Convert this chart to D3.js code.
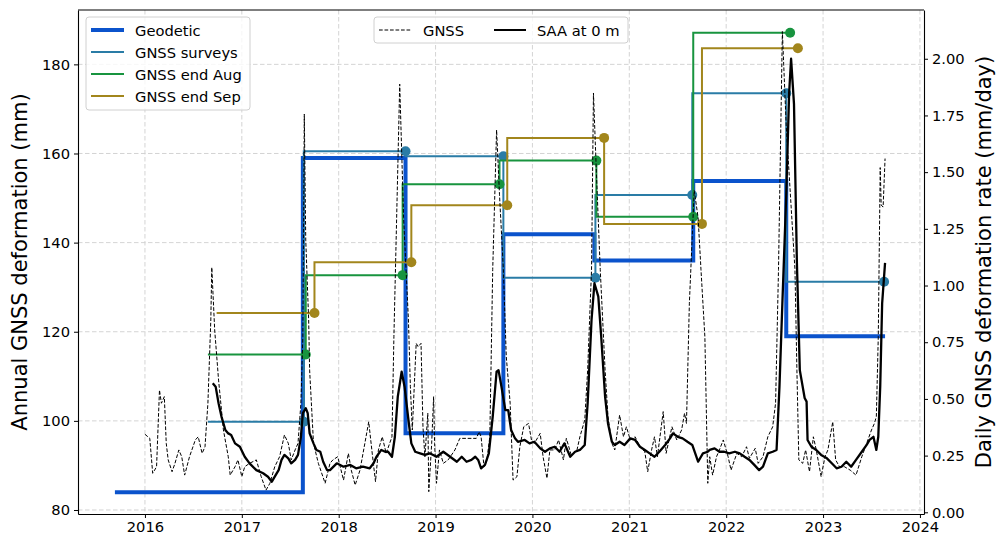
<!DOCTYPE html>
<html><head><meta charset="utf-8">
<script src="https://cdn.jsdelivr.net/npm/d3@7"></script>
<style>
html,body{margin:0;padding:0;background:#fff;}
svg text{font-family:"DejaVu Sans",sans-serif;}
</style></head>
<body>
<svg id="chart" width="998" height="544"></svg>
<script>
// ---------------- DATA ----------------
const xTickYears = [2016,2017,2018,2019,2020,2021,2022,2023,2024];
const leftTicks = [80,100,120,140,160,180];
const rightTicks = [0,0.25,0.5,0.75,1.0,1.25,1.5,1.75,2.0];

// Geodetic annual deformation (step, value holds until next boundary)
const geodeticYears = [2015.69,2017.63,2018.69,2019.70,2020.64,2021.66,2022.62,2023.64];
const geodeticValues = [84.0,159.0,97.2,141.9,136.0,153.8,119.0];

// GNSS surveys (first entry is start of first period, no marker)
const surveyYears = [2016.65,2017.64,2018.69,2019.70,2020.65,2021.65,2022.62,2023.63];
const surveyValues = [99.8,99.8,160.5,159.4,132.1,150.7,173.5,131.2];

// GNSS end Aug
const augYears = [2016.65,2017.66,2018.66,2019.66,2020.66,2021.66,2022.66];
const augValues = [114.9,114.9,132.7,153.1,158.4,145.8,187.1];

// GNSS end Sep
const sepYears = [2016.74,2017.75,2018.75,2019.74,2020.74,2021.75,2022.74];
const sepValues = [124.2,124.2,135.6,148.4,163.5,144.2,183.6];

// Daily GNSS deformation rate (mm/day)
const gnssYears = [2016.00,2016.05,2016.08,2016.10,2016.12,2016.15,2016.17,2016.20,2016.22,2016.24,2016.28,2016.31,2016.35,2016.38,2016.41,2016.46,2016.52,2016.55,2016.59,2016.62,2016.65,2016.68,2016.69,2016.72,2016.76,2016.81,2016.86,2016.88,2016.93,2016.96,2017.00,2017.03,2017.08,2017.15,2017.20,2017.25,2017.29,2017.34,2017.39,2017.44,2017.48,2017.51,2017.55,2017.58,2017.61,2017.63,2017.645,2017.66,2017.69,2017.70,2017.74,2017.79,2017.86,2017.91,2017.94,2017.99,2018.05,2018.10,2018.13,2018.17,2018.22,2018.27,2018.31,2018.35,2018.38,2018.41,2018.45,2018.49,2018.55,2018.57,2018.63,2018.67,2018.72,2018.74,2018.76,2018.80,2018.82,2018.85,2018.87,2018.89,2018.92,2018.93,2018.96,2018.98,2018.99,2019.01,2019.04,2019.08,2019.13,2019.20,2019.25,2019.42,2019.45,2019.47,2019.50,2019.53,2019.56,2019.59,2019.63,2019.66,2019.70,2019.73,2019.77,2019.80,2019.84,2019.87,2019.91,2019.96,2019.99,2020.02,2020.08,2020.11,2020.15,2020.18,2020.23,2020.27,2020.32,2020.35,2020.40,2020.46,2020.49,2020.54,2020.57,2020.61,2020.63,2020.66,2020.70,2020.75,2020.78,2020.82,2020.85,2020.90,2020.94,2020.97,2021.01,2021.06,2021.11,2021.16,2021.19,2021.23,2021.26,2021.29,2021.35,2021.38,2021.44,2021.49,2021.54,2021.57,2021.59,2021.62,2021.67,2021.71,2021.74,2021.78,2021.81,2021.83,2021.86,2021.90,2021.93,2021.97,2022.02,2022.05,2022.11,2022.16,2022.21,2022.24,2022.30,2022.33,2022.38,2022.43,2022.48,2022.51,2022.54,2022.58,2022.62,2022.71,2022.73,2022.75,2022.79,2022.82,2022.86,2022.90,2022.93,2022.98,2023.02,2023.05,2023.10,2023.13,2023.17,2023.22,2023.28,2023.34,2023.40,2023.45,2023.50,2023.53,2023.55,2023.57,2023.59,2023.60,2023.62,2023.64];
const gnssRates = [0.344,0.326,0.172,0.186,0.201,0.539,0.481,0.510,0.304,0.231,0.179,0.216,0.275,0.245,0.164,0.245,0.319,0.333,0.260,0.289,0.481,0.848,1.08,0.804,0.583,0.363,0.245,0.164,0.201,0.231,0.157,0.201,0.216,0.231,0.157,0.098,0.128,0.201,0.245,0.341,0.304,0.231,0.275,0.304,0.481,0.774,1.756,1.20,0.848,0.627,0.304,0.216,0.128,0.216,0.231,0.245,0.142,0.260,0.186,0.120,0.186,0.304,0.399,0.245,0.135,0.275,0.333,0.260,0.333,0.774,1.888,1.30,0.848,0.554,0.363,0.745,0.730,0.745,0.377,0.245,0.437,0.091,0.304,0.510,0.304,0.128,0.275,0.216,0.231,0.275,0.326,0.326,0.355,0.333,0.201,0.231,0.333,1.07,1.686,1.40,1.07,0.686,0.481,0.142,0.157,0.289,0.377,0.392,0.319,0.304,0.348,0.245,0.150,0.275,0.275,0.319,0.231,0.326,0.253,0.275,0.333,0.407,0.627,1.069,1.849,1.50,1.07,0.627,0.422,0.304,0.275,0.429,0.333,0.377,0.319,0.333,0.289,0.267,0.179,0.275,0.333,0.245,0.444,0.260,0.377,0.319,0.363,0.437,0.392,0.922,1.42,1.30,1.069,0.774,0.128,0.245,0.164,0.245,0.275,0.319,0.245,0.186,0.260,0.245,0.289,0.238,0.282,0.216,0.245,0.333,0.377,0.481,1.07,2.12,1.70,1.07,0.627,0.231,0.216,0.275,0.179,0.333,0.275,0.157,0.245,0.275,0.399,0.231,0.201,0.201,0.186,0.164,0.245,0.304,0.363,0.392,0.422,0.774,1.52,1.355,1.346,1.56];

// SAA at 0 m daily rate (mm/day)
const saaYears = [2016.70,2016.73,2016.76,2016.79,2016.83,2016.86,2016.89,2016.93,2016.98,2017.03,2017.08,2017.15,2017.22,2017.27,2017.31,2017.34,2017.38,2017.41,2017.44,2017.48,2017.51,2017.55,2017.58,2017.61,2017.63,2017.66,2017.68,2017.70,2017.74,2017.77,2017.81,2017.84,2017.88,2017.91,2017.98,2018.05,2018.12,2018.18,2018.25,2018.32,2018.36,2018.39,2018.44,2018.48,2018.51,2018.55,2018.58,2018.61,2018.65,2018.68,2018.72,2018.75,2018.79,2018.84,2018.89,2018.94,2019.01,2019.08,2019.15,2019.22,2019.27,2019.32,2019.37,2019.41,2019.44,2019.47,2019.51,2019.55,2019.59,2019.63,2019.65,2019.68,2019.72,2019.75,2019.78,2019.82,2019.85,2019.92,2019.97,2020.02,2020.08,2020.13,2020.18,2020.23,2020.28,2020.33,2020.39,2020.44,2020.49,2020.54,2020.57,2020.61,2020.64,2020.68,2020.71,2020.75,2020.78,2020.82,2020.85,2020.90,2020.95,2021.01,2021.06,2021.11,2021.16,2021.21,2021.26,2021.31,2021.37,2021.42,2021.45,2021.50,2021.55,2021.60,2021.65,2021.71,2021.76,2021.81,2021.83,2021.88,2021.93,2021.98,2022.03,2022.09,2022.14,2022.19,2022.24,2022.29,2022.34,2022.38,2022.43,2022.48,2022.52,2022.55,2022.58,2022.62,2022.65,2022.67,2022.70,2022.73,2022.76,2022.81,2022.83,2022.84,2022.88,2022.93,2022.98,2023.04,2023.09,2023.14,2023.19,2023.24,2023.29,2023.34,2023.40,2023.45,2023.48,2023.52,2023.55,2023.57,2023.59,2023.61,2023.64];
const saaRates = [0.569,0.554,0.481,0.422,0.363,0.348,0.341,0.304,0.289,0.245,0.216,0.186,0.172,0.157,0.135,0.157,0.186,0.231,0.253,0.238,0.216,0.231,0.253,0.333,0.437,0.459,0.437,0.348,0.304,0.275,0.267,0.223,0.186,0.186,0.216,0.201,0.209,0.194,0.201,0.194,0.216,0.245,0.275,0.267,0.267,0.245,0.333,0.510,0.620,0.554,0.407,0.304,0.267,0.260,0.253,0.260,0.245,0.267,0.245,0.223,0.245,0.223,0.231,0.245,0.231,0.194,0.209,0.260,0.422,0.620,0.627,0.554,0.451,0.451,0.363,0.326,0.311,0.319,0.304,0.311,0.282,0.267,0.282,0.289,0.267,0.304,0.245,0.267,0.275,0.297,0.481,0.848,1.010,0.951,0.774,0.510,0.392,0.311,0.297,0.311,0.297,0.326,0.319,0.289,0.275,0.260,0.245,0.267,0.297,0.326,0.348,0.333,0.326,0.311,0.297,0.223,0.260,0.267,0.275,0.282,0.267,0.267,0.260,0.267,0.260,0.245,0.231,0.209,0.186,0.201,0.260,0.267,0.275,0.554,0.922,1.40,1.85,2.00,1.80,1.10,0.627,0.504,0.488,0.319,0.289,0.275,0.253,0.238,0.216,0.194,0.201,0.223,0.201,0.231,0.267,0.297,0.319,0.333,0.275,0.333,0.554,0.922,1.10];

// ---------------- CHART ----------------
const svg = d3.select("#chart");
const L = 78, R = 924, T = 10, B = 514;
const C_GEO = "#0b53cc", C_SUR = "#2a7ca6", C_AUG = "#18943f", C_SEP = "#a2861c";
const FS = "14.7px";

const x = d3.scaleLinear().domain([2015.309, 2024.042]).range([L, R]);
const yL = d3.scaleLinear().domain([79.1, 192.2]).range([B, T]);
const yR = d3.scaleLinear().domain([-0.0075, 2.215]).range([B, T]);

// grid
const grid = svg.append("g");
grid.selectAll("line.v").data(xTickYears).enter().append("line")
  .attr("x1", d => x(d)).attr("x2", d => x(d)).attr("y1", T).attr("y2", B)
  .attr("stroke", "#cfcfcf").attr("stroke-width", 0.9).attr("stroke-dasharray", "4.5,2.5");
grid.selectAll("line.h").data(leftTicks).enter().append("line")
  .attr("x1", L).attr("x2", R).attr("y1", d => yL(d)).attr("y2", d => yL(d))
  .attr("stroke", "#cfcfcf").attr("stroke-width", 0.9).attr("stroke-dasharray", "4.5,2.5");

// geodetic step line
const geoPts = geodeticYears.map((yr, i) => [yr, geodeticValues[Math.min(i, geodeticValues.length - 1)]]);
const lineL = d3.line().x(d => x(d[0])).y(d => yL(d[1]));
svg.append("path").datum(geoPts)
  .attr("d", lineL.curve(d3.curveStepAfter))
  .attr("fill", "none").attr("stroke", C_GEO).attr("stroke-width", 4);

function stepSeries(years, vals, color) {
  const pts = years.map((yr, i) => [yr, vals[i]]);
  svg.append("path").datum(pts)
    .attr("d", d3.line().x(d => x(d[0])).y(d => yL(d[1])).curve(d3.curveStepBefore))
    .attr("fill", "none").attr("stroke", color).attr("stroke-width", 2);
  svg.append("g").selectAll("circle").data(pts.slice(1)).enter().append("circle")
    .attr("cx", d => x(d[0])).attr("cy", d => yL(d[1])).attr("r", 5).attr("fill", color);
}
stepSeries(surveyYears, surveyValues, C_SUR);
stepSeries(augYears, augValues, C_AUG);
stepSeries(sepYears, sepValues, C_SEP);

// right-axis series
const lineR = d3.line().x(d => x(d[0])).y(d => yR(d[1]));
svg.append("path").datum(gnssYears.map((yr, i) => [yr, gnssRates[i]]))
  .attr("d", lineR).attr("fill", "none").attr("stroke", "#000")
  .attr("stroke-width", 1).attr("stroke-dasharray", "3.7,1.8");
svg.append("path").datum(saaYears.map((yr, i) => [yr, saaRates[i]]))
  .attr("d", lineR).attr("fill", "none").attr("stroke", "#000")
  .attr("stroke-width", 2.3).attr("stroke-linejoin", "round");

// axes
function styleAxis(g) {
  g.selectAll(".domain").attr("stroke", "#000").attr("stroke-width", 1.1);
  g.selectAll(".tick line").attr("stroke", "#000").attr("stroke-width", 1);
  g.selectAll(".tick text").attr("font-size", FS).attr("fill", "#000")
    .attr("font-family", "DejaVu Sans");
}
svg.append("g").attr("transform", `translate(0,${B})`)
  .call(d3.axisBottom(x).tickValues(xTickYears).tickFormat(d3.format("d")).tickSize(4).tickSizeOuter(0).tickPadding(4))
  .call(styleAxis);
svg.append("g").attr("transform", `translate(${L},0)`)
  .call(d3.axisLeft(yL).tickValues(leftTicks).tickFormat(d3.format("d")).tickSize(4).tickSizeOuter(0).tickPadding(4))
  .call(styleAxis);
svg.append("g").attr("transform", `translate(${R},0)`)
  .call(d3.axisRight(yR).tickValues(rightTicks).tickFormat(d3.format(".2f")).tickSize(4).tickSizeOuter(0).tickPadding(4))
  .call(styleAxis);
svg.append("line").attr("x1", L).attr("x2", R).attr("y1", T).attr("y2", T)
  .attr("stroke", "#000").attr("stroke-width", 1.1);

// axis titles
svg.append("text").attr("transform", `translate(20,${(T + B) / 2}) rotate(-90)`)
  .attr("text-anchor", "middle").attr("dominant-baseline", "central")
  .attr("font-size", "21px").text("Annual GNSS deformation (mm)");
svg.append("text").attr("transform", `translate(984,${(T + B) / 2}) rotate(-90)`)
  .attr("text-anchor", "middle").attr("dominant-baseline", "central")
  .attr("font-size", "21px").text("Daily GNSS deformation rate (mm/day)");

// legend 1
const lg1 = svg.append("g");
lg1.append("rect").attr("x", 86).attr("y", 17).attr("width", 164).attr("height", 93)
  .attr("rx", 3).attr("fill", "#fff").attr("fill-opacity", 0.8)
  .attr("stroke", "#d0d0d0").attr("stroke-width", 1);
const leg1Items = [
  {label: "Geodetic", color: C_GEO, w: 4},
  {label: "GNSS surveys", color: C_SUR, w: 2},
  {label: "GNSS end Aug", color: C_AUG, w: 2},
  {label: "GNSS end Sep", color: C_SEP, w: 2}
];
leg1Items.forEach((it, i) => {
  const yy = 30 + i * 22;
  lg1.append("line").attr("x1", 91).attr("x2", 124).attr("y1", yy).attr("y2", yy)
    .attr("stroke", it.color).attr("stroke-width", it.w);
  lg1.append("text").attr("x", 135).attr("y", yy).attr("dominant-baseline", "central")
    .attr("font-size", FS).text(it.label);
});

// legend 2
const lg2 = svg.append("g");
lg2.append("rect").attr("x", 374).attr("y", 17).attr("width", 254).attr("height", 26)
  .attr("rx", 3).attr("fill", "#fff").attr("fill-opacity", 0.8)
  .attr("stroke", "#d0d0d0").attr("stroke-width", 1);
lg2.append("line").attr("x1", 379).attr("x2", 411).attr("y1", 30).attr("y2", 30)
  .attr("stroke", "#000").attr("stroke-width", 1).attr("stroke-dasharray", "3.7,1.8");
lg2.append("text").attr("x", 423).attr("y", 30).attr("dominant-baseline", "central")
  .attr("font-size", FS).text("GNSS");
lg2.append("line").attr("x1", 494).attr("x2", 526).attr("y1", 30).attr("y2", 30)
  .attr("stroke", "#000").attr("stroke-width", 2);
lg2.append("text").attr("x", 537).attr("y", 30).attr("dominant-baseline", "central")
  .attr("font-size", FS).text("SAA at 0 m");
</script>
</body></html>
